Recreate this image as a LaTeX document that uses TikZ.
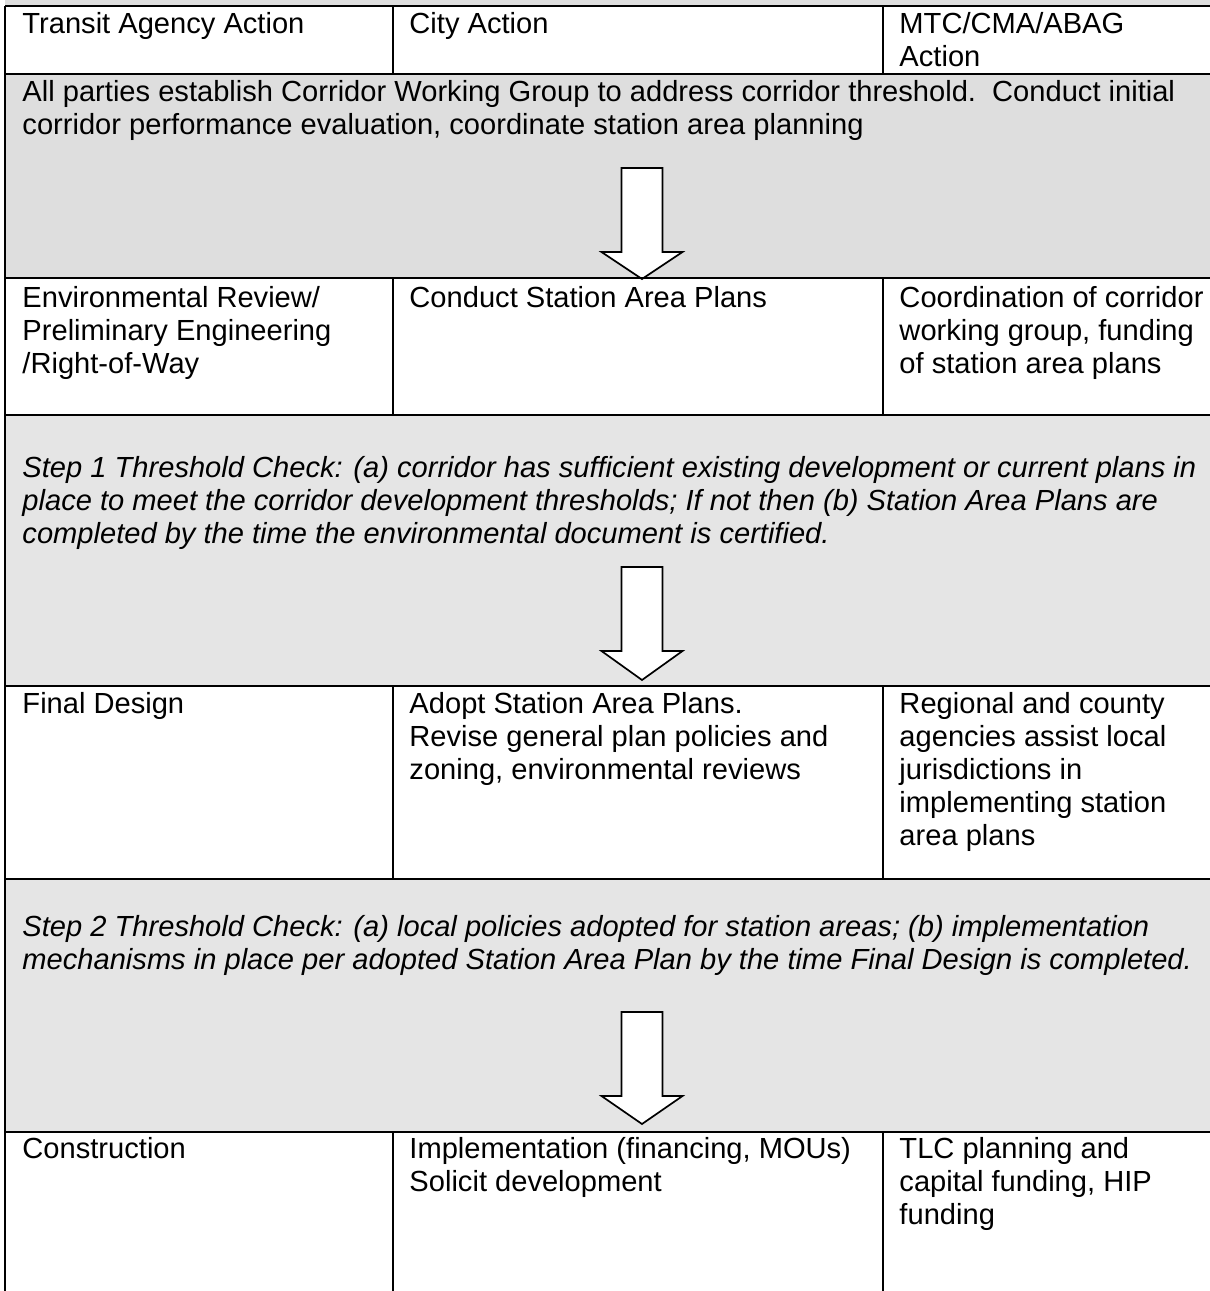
\documentclass[tikz,border=0pt]{standalone}
\usepackage{fontspec}
\setmainfont{Liberation Sans}
\definecolor{bandgray}{HTML}{DEDEDE}
\definecolor{palegray}{HTML}{E5E5E5}
\begin{document}
\begin{tikzpicture}[x=0.41237pt, y=-0.41237pt,
        rule/.style={black, line width=0.95pt},
        darkband/.style={fill=bandgray},
        lightband/.style={fill=palegray},
        blockarrow/.style={draw=black, fill=white, line width=0.7pt, line join=miter},
        cell/.style={anchor=north west, inner sep=0pt, align=left, font=\fontsize{12}{13.6}\selectfont},
        checkcell/.style={cell, font=\fontsize{12}{13.6}\selectfont\itshape}]
        \useasboundingbox (0,0) rectangle (1210,1291);
        \fill[darkband] (5,0) rectangle (1210,6);
        \fill[darkband] (5,74) rectangle (1210,278);
        \fill[lightband] (5,415) rectangle (1210,686);
        \fill[lightband] (5,879) rectangle (1210,1132);
        \filldraw[blockarrow] (621.5,168) -- (662.5,168) -- (662.5,252) -- (682.5,252) -- (642,279) -- (601.5,252) -- (621.5,252) -- cycle;
        \filldraw[blockarrow] (621.5,567) -- (662.5,567) -- (662.5,651) -- (682.5,651) -- (642,680) -- (601.5,651) -- (621.5,651) -- cycle;
        \filldraw[blockarrow] (621.5,1012) -- (662.5,1012) -- (662.5,1096) -- (682.5,1096) -- (642,1124) -- (601.5,1096) -- (621.5,1096) -- cycle;
        \draw[rule] (5,6) -- (1210,6);
        \draw[rule] (5,74) -- (1210,74);
        \draw[rule] (5,278) -- (1210,278);
        \draw[rule] (5,415) -- (1210,415);
        \draw[rule] (5,686) -- (1210,686);
        \draw[rule] (5,879) -- (1210,879);
        \draw[rule] (5,1132) -- (1210,1132);
        \draw[rule] (5,6) -- (5,1291);
        \draw[rule] (393,6) -- (393,74);
        \draw[rule] (883,6) -- (883,74);
        \draw[rule] (393,278) -- (393,415);
        \draw[rule] (883,278) -- (883,415);
        \draw[rule] (393,686) -- (393,879);
        \draw[rule] (883,686) -- (883,879);
        \draw[rule] (393,1132) -- (393,1291);
        \draw[rule] (883,1132) -- (883,1291);
        \node[cell] (transithead) at (22,12) {Transit Agency Action};
        \node[cell] (cityhead) at (409,12) {City Action};
        \node[cell] (mtchead) at (899,12) {MTC/CMA/ABAG\\Action};
        \node[cell] (workinggroup) at (22,80) {All parties establish Corridor Working Group to address corridor threshold.\ \ Conduct initial\\corridor performance evaluation, coordinate station area planning};
        \node[cell] (envreview) at (22,286) {Environmental Review/\\Preliminary Engineering\\/Right-of-Way};
        \node[cell] (stationplans) at (409,286) {Conduct Station Area Plans};
        \node[cell] (coordination) at (899,286) {Coordination of corridor\\working group, funding\\of station area plans};
        \node[checkcell] (checkone) at (22,456) {Step 1 Threshold Check: (a) corridor has sufficient existing development or current plans in\\place to meet the corridor development thresholds; If not then (b) Station Area Plans are\\completed by the time the environmental document is certified.};
        \node[cell] (finaldesign) at (22,692) {Final Design};
        \node[cell] (adoptplans) at (409,692) {Adopt Station Area Plans.\\Revise general plan policies and\\zoning, environmental reviews};
        \node[cell] (regional) at (899,692) {Regional and county\\agencies assist local\\jurisdictions in\\implementing station\\area plans};
        \node[checkcell] (checktwo) at (22,915) {Step 2 Threshold Check: (a) local policies adopted for station areas; (b) implementation\\mechanisms in place per adopted Station Area Plan by the time Final Design is completed.};
        \node[cell] (construction) at (22,1137) {Construction};
        \node[cell] (implementation) at (409,1137) {Implementation (financing, MOUs)\\Solicit development};
        \node[cell] (tlcfunding) at (899,1137) {TLC planning and\\capital funding, HIP\\funding};
\end{tikzpicture}
\end{document}
